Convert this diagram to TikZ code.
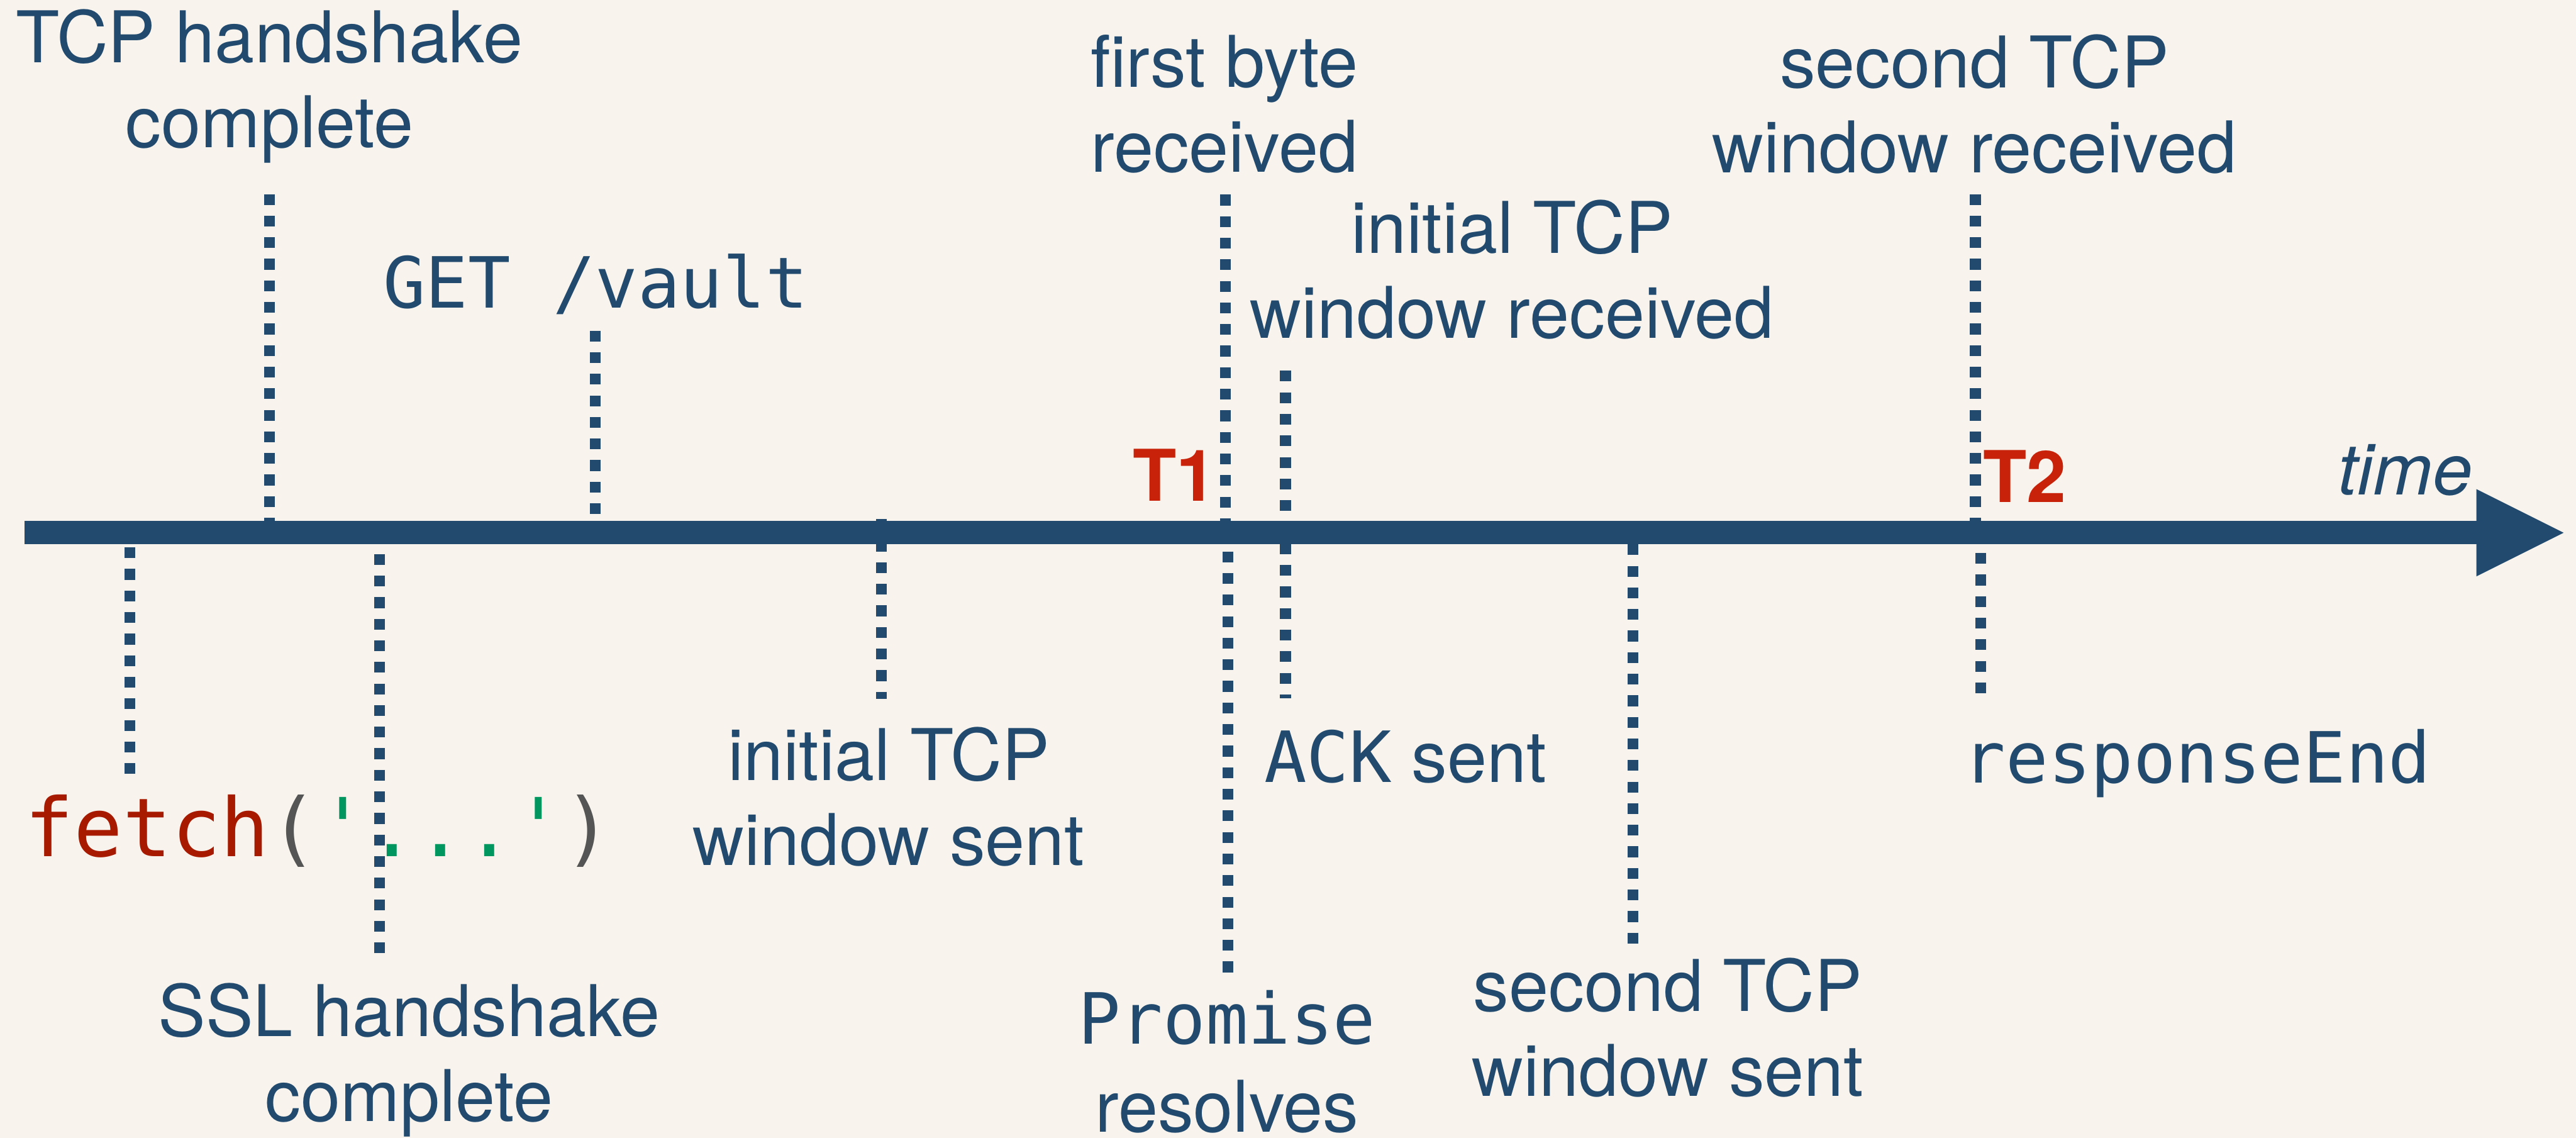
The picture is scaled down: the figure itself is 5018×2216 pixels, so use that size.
\documentclass[tikz,border=0pt]{standalone}
\usepackage{fontspec}
\setmainfont{TeX Gyre Heros}
\setmonofont{DejaVu Sans Mono}
\usetikzlibrary{arrows.meta}
\definecolor{paper}{HTML}{F8F4ED}
\definecolor{navy}{HTML}{214A6E}
\definecolor{tred}{HTML}{C8230A}
\definecolor{fred}{HTML}{A81A00}
\definecolor{pgray}{HTML}{555555}
\definecolor{qgreen}{HTML}{00965F}

\begin{document}
\begin{tikzpicture}[
    x=0.01cm, y=-0.01cm,
    lbl/.style={inner sep=0, anchor=base, align=center, text=navy, font=\fontsize{39.5}{47}\selectfont},
    code/.style={lbl, font=\fontsize{39.1}{47}\selectfont\ttfamily},
    tval/.style={inner sep=0, anchor=base west, text=tred, font=\fontsize{39.5}{47}\selectfont\bfseries},
    tickline/.style={navy, line width=0.21cm, dash pattern=on 0.21cm off 0.21cm},
    timeline/.style={navy, line width=0.45cm, -{Triangle[length=1.7cm, width=1.7cm, line width=0pt]}}
]
\fill[paper] (0,0) rectangle (5018,2216);
\useasboundingbox (0,0) rectangle (5018,2216);

% time axis
\coordinate (start) at (48,1037.5);
\coordinate (end) at (4994,1037.5);
\draw[timeline] (start) -- (end);
\node[lbl, anchor=base, font=\fontsize{39.5}{47}\selectfont\itshape] (timelbl) at (4685,963) {time};

% events above the axis (base = last line)
\node[lbl] (tcpdone) at (525,287) {TCP handshake\\complete};
\node[code] (getvault) at (1160,600) {GET /vault};
\node[lbl] (firstbyte) at (2385,335) {first byte\\received};
\node[lbl] (winrecv1) at (2945,658) {initial TCP\\window received};
\node[lbl] (winrecv2) at (3846,336) {second TCP\\window received};

% events below the axis
\node[inner sep=0, anchor=base west, font=\fontsize{45}{50}\selectfont\ttfamily] (fetchcall) at (48,1668)
    {\color{fred}fetch\color{pgray}(\color{qgreen}'...'\color{pgray})};
\node[lbl] (ssldone) at (797,2184) {SSL handshake\\complete};
\node[lbl] (winsent1) at (1731,1685) {initial TCP\\window sent};
\node[lbl, font=\fontsize{39.5}{48.6}\selectfont] (promise) at (2390,2204) {\fontsize{39.1}{48.6}\selectfont\ttfamily Promise\\resolves};
\node[lbl, anchor=base west] (acksent) at (2462,1523) {\fontsize{39.1}{47}\selectfont\ttfamily ACK\normalfont\fontsize{39.5}{47}\selectfont{} sent};
\node[lbl] (winsent2) at (3249,2135) {second TCP\\window sent};
\node[code] (respend) at (4280,1525) {responseEnd};

% T1 and T2
\node[tval] (tone) at (2206,976) {T1};
\node[tval] (ttwo) at (3862,978) {T2};

% dotted markers
\coordinate (tcp-a) at (525,378);   \coordinate (tcp-b) at (525,1015);
\coordinate (get-a) at (1160,644);  \coordinate (get-b) at (1160,1015);
\coordinate (fet-a) at (253,1066);  \coordinate (fet-b) at (253,1513);
\coordinate (ssl-a) at (739,1079);  \coordinate (ssl-b) at (739,1868);
\coordinate (ws1-a) at (1717,1011); \coordinate (ws1-b) at (1717,1361);
\coordinate (fb-a) at (2387,379);   \coordinate (fb-b) at (2387,1015);
\coordinate (pr-a) at (2392,1074);  \coordinate (pr-b) at (2392,1906);
\coordinate (wr1-a) at (2504,722);  \coordinate (wr1-b) at (2504,1360);
\coordinate (ws2-a) at (3181,1060); \coordinate (ws2-b) at (3181,1847);
\coordinate (wr2-a) at (3848,378);  \coordinate (wr2-b) at (3848,1015);
\coordinate (re-a) at (3858,1077);  \coordinate (re-b) at (3858,1360);

\draw[tickline] (tcp-a) -- (tcp-b);
\draw[tickline] (get-a) -- (get-b);
\draw[tickline] (fet-a) -- (fet-b);
\draw[tickline] (ssl-a) -- (ssl-b);
\draw[tickline] (ws1-a) -- (ws1-b);
\draw[tickline] (fb-a) -- (fb-b);
\draw[tickline] (pr-a) -- (pr-b);
\draw[tickline] (wr1-a) -- (wr1-b);
\draw[tickline] (ws2-a) -- (ws2-b);
\draw[tickline] (wr2-a) -- (wr2-b);
\draw[tickline] (re-a) -- (re-b);
\end{tikzpicture}
\end{document}
